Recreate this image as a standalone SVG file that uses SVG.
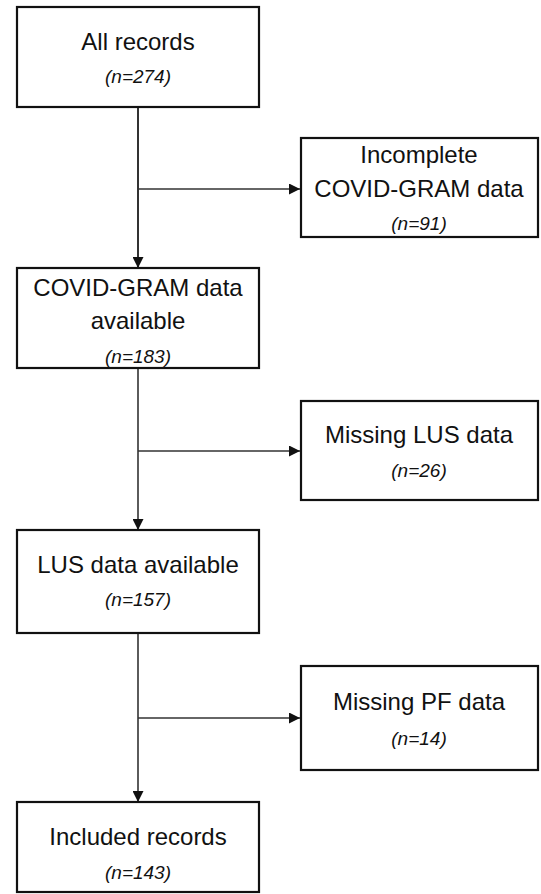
<svg xmlns="http://www.w3.org/2000/svg" width="541" height="894" viewBox="0 0 541 894">
<style>
.box{fill:#fff;stroke:#111;stroke-width:2.2}
.t{font-family:"Liberation Sans",Arial,sans-serif;font-size:24px;fill:#111;text-anchor:middle}
.n{font-family:"Liberation Sans",Arial,sans-serif;font-size:19px;font-style:italic;fill:#111;text-anchor:middle}
.c{fill:none;stroke:#333;stroke-width:1.6}
</style>
<defs>
<marker id="ah" viewBox="0 0 10 10" refX="10" refY="5" markerWidth="11" markerHeight="11" markerUnits="userSpaceOnUse" orient="auto">
<path d="M0,0 L10,5 L0,10 Z" fill="#111"/>
</marker>
</defs>
<rect width="541" height="894" fill="#fff"/>
<g id="connectors">
<path class="c" d="M138,107 V268" marker-end="url(#ah)" style="stroke-width:2"/>
<path class="c" d="M138,189 H300" marker-end="url(#ah)"/>
<path class="c" d="M138,368 V530" marker-end="url(#ah)"/>
<path class="c" d="M138,451 H300" marker-end="url(#ah)"/>
<path class="c" d="M138,633 V802" marker-end="url(#ah)"/>
<path class="c" d="M138,718 H300" marker-end="url(#ah)"/>
</g>
<g id="all-records">
<rect class="box" x="17" y="7" width="242" height="100"/>
<text class="t" x="138" y="50">All records</text>
<text class="n" x="138" y="83">(n=274)</text>
</g>
<g id="incomplete">
<rect class="box" x="301" y="138" width="237" height="99"/>
<text class="t" x="419" y="163">Incomplete</text>
<text class="t" x="419" y="197">COVID-GRAM data</text>
<text class="n" x="419" y="230">(n=91)</text>
</g>
<g id="covid-gram">
<rect class="box" x="17" y="268" width="242" height="100"/>
<text class="t" x="138" y="296">COVID-GRAM data</text>
<text class="t" x="138" y="329">available</text>
<text class="n" x="138" y="363">(n=183)</text>
</g>
<g id="missing-lus">
<rect class="box" x="301" y="401" width="237" height="99"/>
<text class="t" x="419" y="443">Missing LUS data</text>
<text class="n" x="419" y="477">(n=26)</text>
</g>
<g id="lus-available">
<rect class="box" x="17" y="530" width="242" height="103"/>
<text class="t" x="138" y="573">LUS data available</text>
<text class="n" x="138" y="606">(n=157)</text>
</g>
<g id="missing-pf">
<rect class="box" x="301" y="666" width="237" height="104"/>
<text class="t" x="419" y="710">Missing PF data</text>
<text class="n" x="419" y="745">(n=14)</text>
</g>
<g id="included">
<rect class="box" x="17" y="802" width="242" height="90"/>
<text class="t" x="138" y="845">Included records</text>
<text class="n" x="138" y="879">(n=143)</text>
</g>
</svg>
